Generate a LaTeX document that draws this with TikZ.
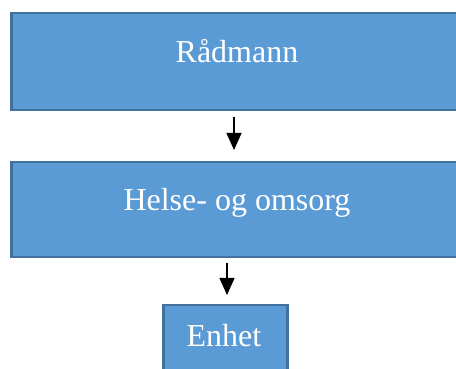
\documentclass[tikz,border=0pt]{standalone}
\usepackage{fontspec}
\setmainfont{Liberation Serif}
\usetikzlibrary{arrows.meta}
\definecolor{boxfill}{HTML}{5B9BD5}
\definecolor{boxline}{HTML}{41719C}
\tikzset{
  x=1pt,y=1pt,
  orgbox/.style={draw=boxline,fill=boxfill,line width=2.5pt,inner sep=0pt},
  lbl/.style={text=white,font=\fontsize{32}{38}\selectfont,anchor=base,inner sep=0pt},
  conn/.style={line width=1.2pt,-{Triangle[width=15pt,length=17pt]}}
}
\begin{document}
\begin{tikzpicture}
\useasboundingbox (0,0) rectangle (456,369);
\clip (0,0) rectangle (456,369);
% y_tikz = 369 - y_image
\node[orgbox,minimum width=460pt,minimum height=97pt,anchor=north west] (radmann) at (10,357) {};
\node[orgbox,minimum width=460pt,minimum height=95pt,anchor=north west] (helse) at (10,208) {};
\node[orgbox,minimum width=124pt,minimum height=80pt,anchor=north west] (enhet) at (162,65) {};
\node[lbl] (t1) at (237,306) {Rådmann};
\node[lbl] (t2) at (237,158) {Helse- og omsorg};
\node[lbl] (t3) at (224,22) {Enhet};
\coordinate (a1s) at (234,255);
\coordinate (a1e) at (234,219);
\coordinate (a2s) at (227,108);
\coordinate (a2e) at (227,74);
\draw[conn] (a1s |- radmann.south) ++(0,-6) -- (a1e);
\draw[conn] (a2s |- helse.south) ++(0,-5) -- (a2e);
\end{tikzpicture}
\end{document}
